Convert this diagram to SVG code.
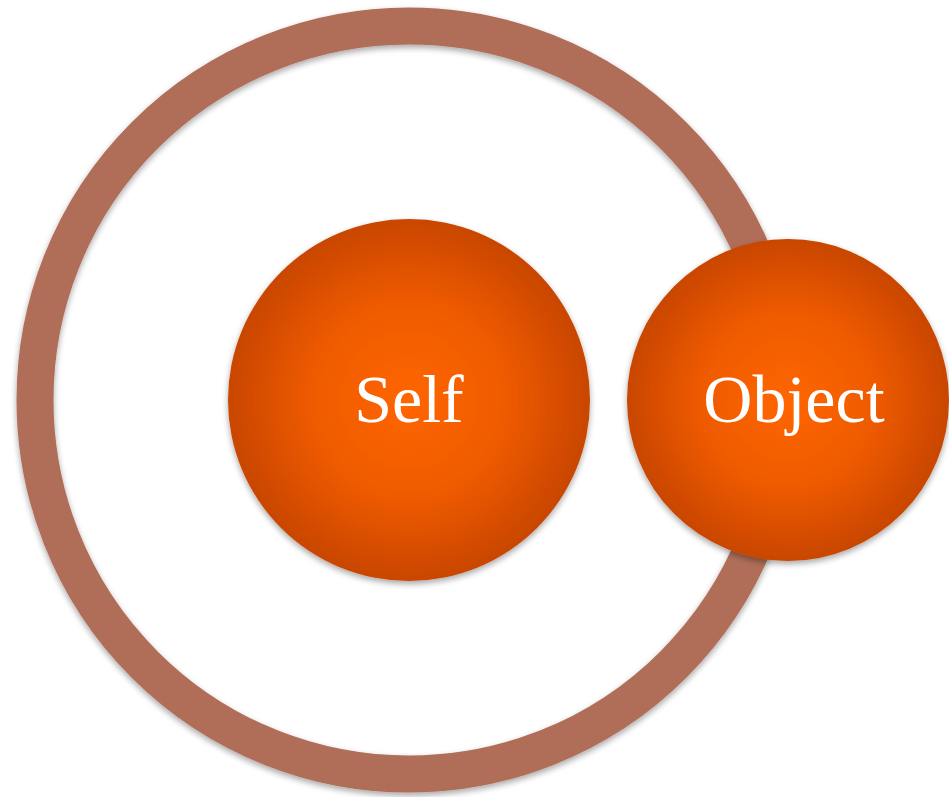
<svg xmlns="http://www.w3.org/2000/svg" width="949" height="797" viewBox="0 0 949 797">
<defs>
<radialGradient id="orb" cx="50%" cy="50%" r="50%">
<stop offset="0" stop-color="#FF6600"/>
<stop offset="0.55" stop-color="#EE5A00"/>
<stop offset="1" stop-color="#C94600"/>
</radialGradient>
<filter id="sh" x="-10%" y="-10%" width="120%" height="125%">
<feGaussianBlur in="SourceAlpha" stdDeviation="3"/>
<feOffset dx="0" dy="3" result="b"/>
<feComponentTransfer><feFuncA type="linear" slope="0.35"/></feComponentTransfer>
<feMerge><feMergeNode/><feMergeNode in="SourceGraphic"/></feMerge>
</filter>
</defs>
<style>
.lbl{font-family:"Liberation Serif","DejaVu Serif",serif;font-size:68px;fill:#FFFFFF;text-anchor:middle}
.orb{fill:url(#orb)}
</style>
<rect width="949" height="797" fill="#FFFFFF"/>
<g id="ring" filter="url(#sh)">
<circle cx="409" cy="400" r="374" fill="none" stroke="#B06E58" stroke-width="37"/>
</g>
<g id="self" filter="url(#sh)">
<circle class="orb" cx="409" cy="400" r="181"/>
<text class="lbl" x="409" y="422">Self</text>
</g>
<g id="object" filter="url(#sh)">
<circle class="orb" cx="788" cy="400" r="161"/>
<text class="lbl" x="794" y="422">Object</text>
</g>
<g id="connectors"/>
</svg>
